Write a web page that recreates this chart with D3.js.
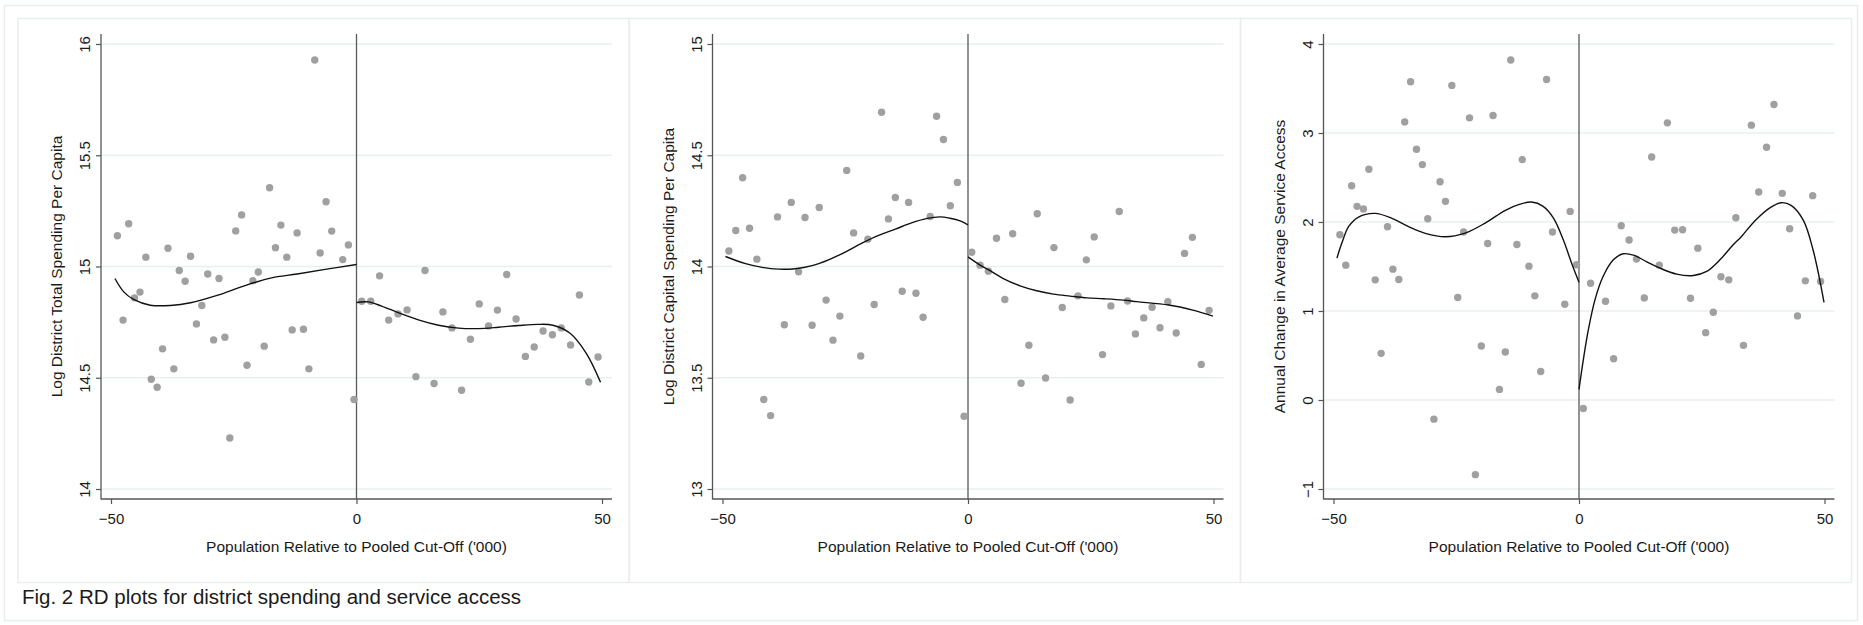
<!DOCTYPE html>
<html>
<head>
<meta charset="utf-8">
<script src="https://cdn.jsdelivr.net/npm/d3@7/dist/d3.min.js"></script>
<style>
	body { margin: 0; background: #fff; }
	svg { display: block; font-family: "Liberation Sans", Arial, sans-serif; }
	.axis text { fill: #1a1a1a; }
</style>
</head>
<body>
<div id="graphic"></div>
<script>
// binned means, left and right of the cut-off, one pair of arrays per panel
const totalLeftX = [-48.7, -47.55, -46.4, -45.2, -44.1, -42.9, -41.8, -40.6, -39.5, -38.4, -37.2, -36.1, -34.9, -33.8, -32.6, -31.5, -30.3, -29.1, -28.0, -26.8, -25.8, -24.6, -23.4, -22.3, -21.1, -20.0, -18.8, -17.7, -16.5, -15.4, -14.2, -13.1, -12.1, -10.8, -9.7, -8.5, -7.4, -6.2, -5.05, -2.8, -1.65, -0.5];
const totalLeftY = [15.138, 14.759, 15.192, 14.859, 14.885, 15.042, 14.493, 14.457, 14.630, 15.082, 14.540, 14.982, 14.934, 15.046, 14.742, 14.825, 14.966, 14.670, 14.946, 14.682, 14.229, 15.160, 15.232, 14.556, 14.936, 14.975, 14.642, 15.354, 15.084, 15.186, 15.042, 14.715, 15.151, 14.718, 14.540, 15.928, 15.061, 15.291, 15.159, 15.031, 15.097, 14.402];
const totalRightX = [1.06, 2.9, 4.7, 6.56, 8.45, 10.3, 12.1, 13.95, 15.8, 17.6, 19.45, 21.4, 23.2, 25.0, 26.9, 28.7, 30.6, 32.5, 34.4, 36.2, 38.0, 39.9, 41.7, 43.6, 45.4, 47.3, 49.2];
const totalRightY = [14.844, 14.844, 14.958, 14.759, 14.787, 14.805, 14.505, 14.982, 14.474, 14.796, 14.724, 14.444, 14.673, 14.832, 14.733, 14.804, 14.964, 14.764, 14.596, 14.638, 14.710, 14.693, 14.724, 14.647, 14.872, 14.481, 14.593];

const capitalLeftX = [-48.7, -47.3, -45.9, -44.5, -43.0, -41.6, -40.2, -38.8, -37.4, -36.0, -34.5, -33.2, -31.75, -30.3, -28.9, -27.5, -26.1, -24.7, -23.3, -21.85, -20.4, -19.1, -17.6, -16.2, -14.8, -13.4, -12.1, -10.6, -9.15, -7.7, -6.4, -5.0, -3.6, -2.16, -0.8];
const capitalLeftY = [14.070, 14.162, 14.399, 14.172, 14.033, 13.402, 13.330, 14.223, 13.738, 14.288, 13.976, 14.220, 13.736, 14.265, 13.849, 13.669, 13.777, 14.432, 14.151, 13.598, 14.123, 13.829, 14.693, 14.214, 14.310, 13.889, 14.288, 13.880, 13.772, 14.225, 14.675, 14.571, 14.273, 14.378, 13.327];
const capitalRightX = [0.76, 2.46, 4.15, 5.8, 7.5, 9.1, 10.8, 12.4, 14.1, 15.8, 17.5, 19.2, 20.8, 22.4, 24.1, 25.7, 27.4, 29.1, 30.8, 32.5, 34.1, 35.8, 37.5, 39.1, 40.7, 42.4, 44.1, 45.7, 47.5, 49.1];
const capitalRightY = [14.064, 14.006, 13.979, 14.127, 13.852, 14.147, 13.475, 13.646, 14.237, 13.499, 14.085, 13.816, 13.400, 13.868, 14.030, 14.133, 13.604, 13.823, 14.247, 13.845, 13.697, 13.769, 13.817, 13.725, 13.842, 13.701, 14.059, 14.131, 13.560, 13.803];

const accessLeftX = [-48.7, -47.5, -46.3, -45.2, -43.9, -42.8, -41.5, -40.3, -39.0, -37.9, -36.7, -35.5, -34.3, -33.1, -31.9, -30.8, -29.55, -28.3, -27.2, -25.9, -24.7, -23.5, -22.3, -21.1, -19.9, -18.6, -17.5, -16.2, -15.0, -13.9, -12.65, -11.55, -10.2, -9.0, -7.8, -6.6, -5.4, -2.9, -1.8, -0.5];
const accessLeftY = [1.857, 1.515, 2.408, 2.176, 2.146, 2.592, 1.350, 0.524, 1.947, 1.470, 1.354, 3.125, 3.576, 2.818, 2.645, 2.037, -0.215, 2.453, 2.232, 3.535, 1.151, 1.887, 3.170, -0.839, 0.607, 1.759, 3.197, 0.119, 0.539, 3.820, 1.748, 2.701, 1.504, 1.170, 0.321, 3.602, 1.887, 1.076, 2.119, 1.519];
const accessRightX = [0.87, 2.36, 5.4, 7.05, 8.6, 10.2, 11.7, 13.3, 14.8, 16.35, 18.0, 19.5, 21.1, 22.7, 24.2, 25.8, 27.35, 28.9, 30.5, 31.95, 33.5, 35.1, 36.6, 38.2, 39.7, 41.4, 42.9, 44.5, 46.1, 47.6, 49.2];
const accessRightY = [-0.095, 1.312, 1.110, 0.464, 1.958, 1.797, 1.583, 1.147, 2.731, 1.515, 3.114, 1.909, 1.913, 1.143, 1.706, 0.757, 0.986, 1.384, 1.350, 2.048, 0.614, 3.088, 2.337, 2.840, 3.321, 2.322, 1.924, 0.945, 1.339, 2.296, 1.331];

// fitted polynomial lines
const totalFitLeftX = [-49.2, -47.4, -45.4, -42.0, -37.9, -33.8, -28.4, -23.0, -17.5, -12.1, -6.4, 0];
const totalFitLeftY = [14.946, 14.886, 14.852, 14.826, 14.825, 14.837, 14.870, 14.912, 14.948, 14.966, 14.987, 15.009];
const totalFitRightX = [0, 2.4, 5.1, 8.5, 12.6, 16.7, 20.8, 24.8, 28.9, 33, 37, 40, 43.5, 46.8, 49.7];
const totalFitRightY = [14.838, 14.841, 14.822, 14.793, 14.760, 14.736, 14.723, 14.721, 14.727, 14.735, 14.740, 14.736, 14.70, 14.61, 14.48];

const capitalFitLeftX = [-49.4, -45.3, -41.9, -38.55, -35.2, -31.75, -28.4, -25.0, -21.6, -18.2, -14.8, -11.5, -8.5, -5.7, -3.65, -1.6, 0];
const capitalFitLeftY = [14.045, 14.013, 13.996, 13.988, 13.990, 14.004, 14.030, 14.065, 14.105, 14.140, 14.168, 14.196, 14.215, 14.223, 14.217, 14.205, 14.187];
const capitalFitRightX = [0, 2.46, 4.5, 7.2, 10.6, 14.0, 17.4, 20.8, 24.2, 27.6, 31.6, 34.4, 40.9, 45.8, 49.9];
const capitalFitRightY = [14.043, 14.006, 13.981, 13.946, 13.913, 13.891, 13.876, 13.867, 13.859, 13.855, 13.849, 13.842, 13.827, 13.804, 13.777];

const accessFitLeftX = [-49.3, -48.3, -46.9, -44.9, -41.5, -38.1, -34.7, -31.3, -27.2, -23.2, -19.1, -15.0, -12.0, -9.65, -7.3, -5.2, -3.2, -1.5, 0];
const accessFitLeftY = [1.594, 1.763, 1.950, 2.056, 2.097, 2.041, 1.947, 1.872, 1.834, 1.875, 1.988, 2.131, 2.20, 2.224, 2.176, 2.044, 1.800, 1.537, 1.323];
const accessFitRightX = [0, 0.87, 1.9, 3.25, 4.9, 7.0, 9.0, 11.1, 13.8, 16.5, 19.9, 23.3, 26.0, 28.7, 31.4, 33.1, 35.9, 39.1, 41.2, 43.2, 45.7, 47.7, 49.9];
const accessFitRightY = [0.119, 0.449, 0.787, 1.125, 1.387, 1.575, 1.643, 1.628, 1.553, 1.481, 1.414, 1.399, 1.444, 1.575, 1.744, 1.838, 2.018, 2.168, 2.217, 2.187, 2.018, 1.680, 1.098];

// tick labels
const xTicks = [-50, 0, 50];
const totalTicks = [14, 14.5, 15, 15.5, 16];
const capitalTicks = [13, 13.5, 14, 14.5, 15];
const accessTicks = [-1, 0, 1, 2, 3, 4];

const yTitles = ['Log District Total Spending Per Capita', 'Log District Capital Spending Per Capita', 'Annual Change in Average Service Access'];
const xTitle = "Population Relative to Pooled Cut-Off ('000)";
const caption = 'Fig. 2 RD plots for district spending and service access';

const zip = (xs, ys) => xs.map((x, i) => ({ x: x, y: ys[i] }));

const panels = [
	{ ticks: totalTicks, title: yTitles[0], points: zip(totalLeftX, totalLeftY).concat(zip(totalRightX, totalRightY)), fits: [zip(totalFitLeftX, totalFitLeftY), zip(totalFitRightX, totalFitRightY)] },
	{ ticks: capitalTicks, title: yTitles[1], points: zip(capitalLeftX, capitalLeftY).concat(zip(capitalRightX, capitalRightY)), fits: [zip(capitalFitLeftX, capitalFitLeftY), zip(capitalFitRightX, capitalFitRightY)] },
	{ ticks: accessTicks, title: yTitles[2], points: zip(accessLeftX, accessLeftY).concat(zip(accessRightX, accessRightY)), fits: [zip(accessFitLeftX, accessFitLeftY), zip(accessFitRightX, accessFitRightY)] }
];

const width = 1863, height = 625;
const axisLeftPos = [101, 712.5, 1323.5]; // x of each y axis line
const plotTop = 34, plotBottom = 499, plotWidth = 511;
const gridColour = '#e8efef', frameColour = '#e9eeee';

function drawGraphic() {
	const svg = d3.select('#graphic')
		.append('svg')
		.attr('width', width)
		.attr('height', height);

	svg.append('rect').attr('width', width).attr('height', height).attr('fill', '#fff');

	// outer frame and the three panel frames
	svg.append('rect')
		.attr('x', 4.5).attr('y', 5.5).attr('width', 1853).attr('height', 615)
		.attr('fill', 'none').attr('stroke', frameColour).attr('stroke-width', 1.5);

	svg.selectAll('.panel-frame')
		.data(axisLeftPos)
		.join('rect')
		.attr('class', 'panel-frame')
		.attr('x', (d) => d - 83)
		.attr('y', 18.5)
		.attr('width', 611)
		.attr('height', 564)
		.attr('fill', 'none')
		.attr('stroke', frameColour)
		.attr('stroke-width', 1.5);

	panels.forEach(function (p, i) {
		const left = axisLeftPos[i];
		const g = svg.append('g');

		const x = d3.scaleLinear().domain([-50, 50]).range([left + 10, left + 501]);
		const y = d3.scaleLinear()
			.domain([p.ticks[0], p.ticks[p.ticks.length - 1]])
			.range([489, 44]);

		// gridlines
		g.append('g')
			.selectAll('line')
			.data(p.ticks)
			.join('line')
			.attr('x1', left)
			.attr('x2', left + plotWidth)
			.attr('y1', (d) => y(d))
			.attr('y2', (d) => y(d))
			.attr('stroke', gridColour)
			.attr('stroke-width', 1.5);

		// y axis
		const yAxis = g.append('g')
			.attr('class', 'axis')
			.attr('transform', 'translate(' + left + ',0)')
			.call(d3.axisLeft(y).tickValues(p.ticks).tickSize(5).tickSizeOuter(0).tickFormat(d3.format('')));
		yAxis.select('.domain').remove();
		yAxis.selectAll('line').attr('stroke', '#555').attr('stroke-width', 1.2);
		yAxis.selectAll('text')
			.attr('transform', 'rotate(-90)')
			.attr('x', 0)
			.attr('y', -11)
			.attr('dy', 0)
			.attr('text-anchor', 'middle')
			.style('font-size', '15px');

		// x axis
		const xAxis = g.append('g')
			.attr('class', 'axis')
			.attr('transform', 'translate(0,' + plotBottom + ')')
			.call(d3.axisBottom(x).tickValues(xTicks).tickSize(5).tickSizeOuter(0));
		xAxis.select('.domain').remove();
		xAxis.selectAll('line').attr('stroke', '#555').attr('stroke-width', 1.2);
		xAxis.selectAll('text')
			.attr('y', 25)
			.attr('dy', 0)
			.style('font-size', '15px');

		// axis lines
		g.append('line')
			.attr('x1', left).attr('x2', left)
			.attr('y1', plotTop).attr('y2', plotBottom + 0.5)
			.attr('stroke', '#555').attr('stroke-width', 1.3);
		g.append('line')
			.attr('x1', left).attr('x2', left + plotWidth)
			.attr('y1', plotBottom).attr('y2', plotBottom)
			.attr('stroke', '#555').attr('stroke-width', 1.3);

		// cut-off line
		g.append('line')
			.attr('x1', x(0)).attr('x2', x(0))
			.attr('y1', plotTop).attr('y2', plotBottom)
			.attr('stroke', '#5a5a5a').attr('stroke-width', 1.3);

		// binned means
		g.append('g')
			.selectAll('circle')
			.data(p.points)
			.join('circle')
			.attr('cx', (d) => x(d.x))
			.attr('cy', (d) => y(d.y))
			.attr('r', 3.7)
			.attr('fill', '#a0a0a0');

		// fitted lines
		const line = d3.line()
			.x((d) => x(d.x))
			.y((d) => y(d.y))
			.curve(d3.curveCatmullRom.alpha(0.5));

		g.append('g')
			.selectAll('path')
			.data(p.fits)
			.join('path')
			.attr('d', line)
			.attr('fill', 'none')
			.attr('stroke', '#111')
			.attr('stroke-width', 1.4);

		// axis titles
		g.append('text')
			.attr('transform', 'translate(' + (left - 39) + ',' + ((plotTop + plotBottom) / 2) + ') rotate(-90)')
			.attr('text-anchor', 'middle')
			.style('font-size', '15.5px')
			.attr('fill', '#1a1a1a')
			.text(p.title);

		g.append('text')
			.attr('x', x(0))
			.attr('y', 552)
			.attr('text-anchor', 'middle')
			.style('font-size', '15.5px')
			.attr('fill', '#1a1a1a')
			.text(xTitle);
	});

	//caption under the panels
	svg.append('text')
		.attr('x', 22)
		.attr('y', 604)
		.style('font-size', '20.5px')
		.attr('fill', '#1a1a1a')
		.text(caption);
}

drawGraphic();
</script>
</body>
</html>
